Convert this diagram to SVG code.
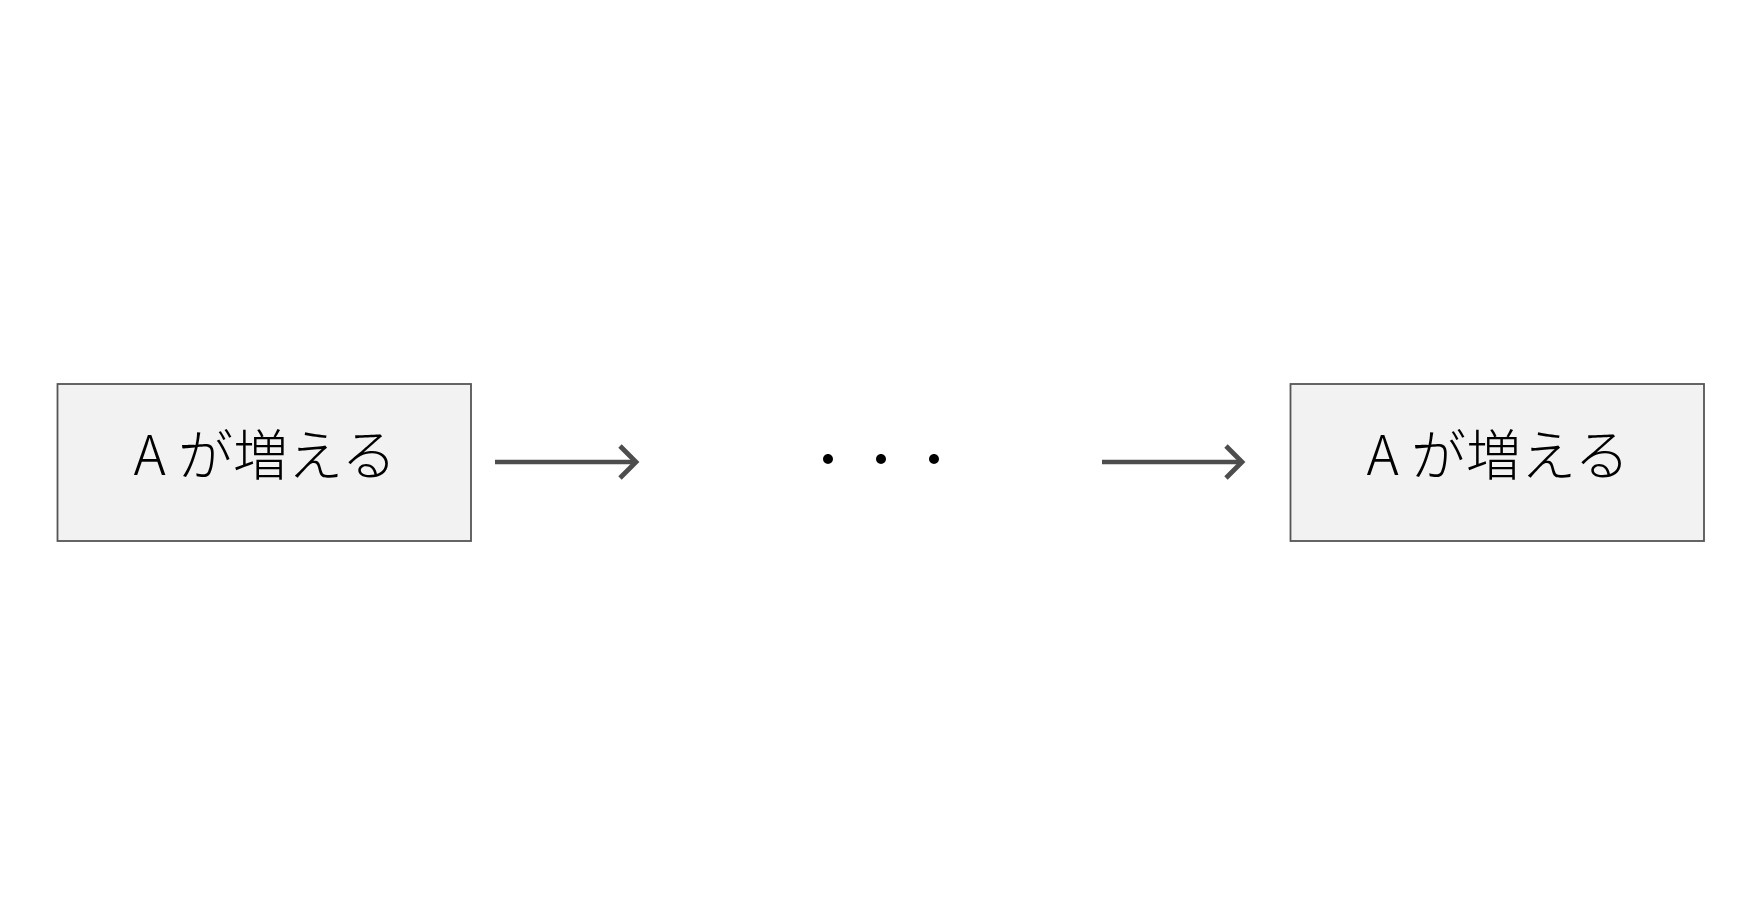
<svg xmlns="http://www.w3.org/2000/svg" width="1764" height="922" viewBox="0 0 1764 922">
<defs>
<style>
.box{fill:#f2f2f2;stroke:#555555;stroke-width:1.8}
.lbl{font-family:"Noto Sans CJK JP","Noto Sans",sans-serif;font-size:55px;font-weight:300;fill:#000000;text-anchor:middle}
.dots{font-family:"Noto Sans CJK JP","Noto Sans",sans-serif;font-size:53px;font-weight:300;fill:#000000;text-anchor:middle}
.conn{stroke:#4d4d4d;stroke-width:4.5;fill:none}
.head{stroke:#4d4d4d;stroke-width:4.8;fill:none;stroke-linecap:butt;stroke-linejoin:miter}
</style>
</defs>
<rect width="1764" height="922" fill="#ffffff"/>
<g id="node-left">
<rect class="box" x="57.5" y="384" width="413.5" height="157"/>
<text class="lbl" x="265" y="475">A が増える</text>
</g>
<g id="node-dots">
<text class="dots" x="881" y="480">・・・</text>
</g>
<g id="node-right">
<rect class="box" x="1290.5" y="384" width="413.5" height="157"/>
<text class="lbl" x="1498" y="475">A が増える</text>
</g>
<g id="connectors">
<line class="conn" x1="495" y1="462" x2="636" y2="462"/>
<polyline class="head" points="620,446 636,462 620,478"/>
<line class="conn" x1="1102" y1="462" x2="1242" y2="462"/>
<polyline class="head" points="1226,446 1242,462 1226,478"/>
</g>
</svg>
